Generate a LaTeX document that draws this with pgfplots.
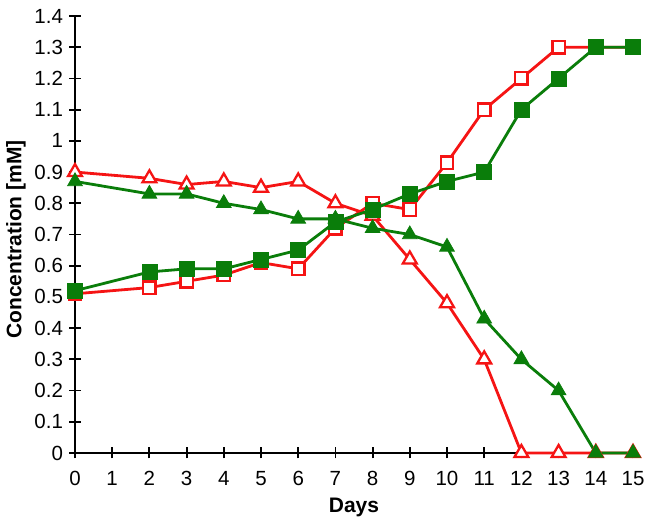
\documentclass[border=0pt]{standalone}
\usepackage{fontspec}
\setmainfont{Liberation Sans}
\usepackage{pgfplots}
\pgfplotsset{compat=1.18}
\definecolor{myred}{RGB}{245,20,20}
\definecolor{mygreen}{RGB}{10,125,10}
\begin{document}
\begin{tikzpicture}[font=\fontsize{20.5}{24}\selectfont]
\begin{axis}[
  scale only axis,
  width=558pt, height=437pt,
  xmin=0, xmax=15, ymin=0, ymax=1.4,
  axis lines=left,
  axis line style={-, line width=2pt, black},
  xtick={0,1,...,15},
  ytick={0,0.1,...,1.4},
  yticklabels={0,0.1,0.2,0.3,0.4,0.5,0.6,0.7,0.8,0.9,1,1.1,1.2,1.3,1.4},
  tick align=center,
  major tick length=11pt,
  tick style={line width=1.8pt, black},
  /pgf/number format/assume math mode=true,
  xticklabel style={yshift=-9pt},
  yticklabel style={xshift=-3pt},
  xlabel={\textbf{Days}},
  ylabel={\textbf{Concentration [mM]}},
  xlabel style={at={(axis description cs:0.5,-0.1236)}, anchor=center, font=\fontsize{21}{24}\selectfont},
  ylabel style={at={(axis description cs:-0.1057,0.4886)}, anchor=center, font=\fontsize{21}{24}\selectfont},
  clip=false,
]
\addplot[myred, line width=2.8pt, mark=triangle*, mark size=8pt, mark options={fill=white, line width=2.3pt}]
coordinates {(0,0.90)(2,0.88)(3,0.86)(4,0.87)(5,0.85)(6,0.87)(7,0.80)(8,0.76)(9,0.62)(10,0.48)(11,0.30)(12,0)(13,0)(14,0)(15,0)};
\addplot[myred, line width=2.8pt, mark=square*, mark size=6.2pt, mark options={fill=white, line width=2.3pt}]
coordinates {(0,0.51)(2,0.53)(3,0.55)(4,0.57)(5,0.61)(6,0.59)(7,0.72)(8,0.80)(9,0.78)(10,0.93)(11,1.10)(12,1.20)(13,1.30)(14,1.30)(15,1.30)};
\addplot[mygreen, line width=2.8pt, mark=triangle*, mark size=8.5pt, mark options={fill=mygreen, line width=0.8pt}]
coordinates {(0,0.87)(2,0.83)(3,0.83)(4,0.80)(5,0.78)(6,0.75)(7,0.75)(8,0.72)(9,0.70)(10,0.66)(11,0.43)(12,0.30)(13,0.20)(14,0)(15,0)};
\addplot[mygreen, line width=2.8pt, mark=square*, mark size=7.5pt, mark options={fill=mygreen, line width=0.5pt}]
coordinates {(0,0.52)(2,0.58)(3,0.59)(4,0.59)(5,0.62)(6,0.65)(7,0.74)(8,0.78)(9,0.83)(10,0.87)(11,0.90)(12,1.10)(13,1.20)(14,1.30)(15,1.30)};
\end{axis}
\pgfresetboundingbox
\path (-75pt,-73pt) rectangle (578pt,453pt);
\end{tikzpicture}
\end{document}
